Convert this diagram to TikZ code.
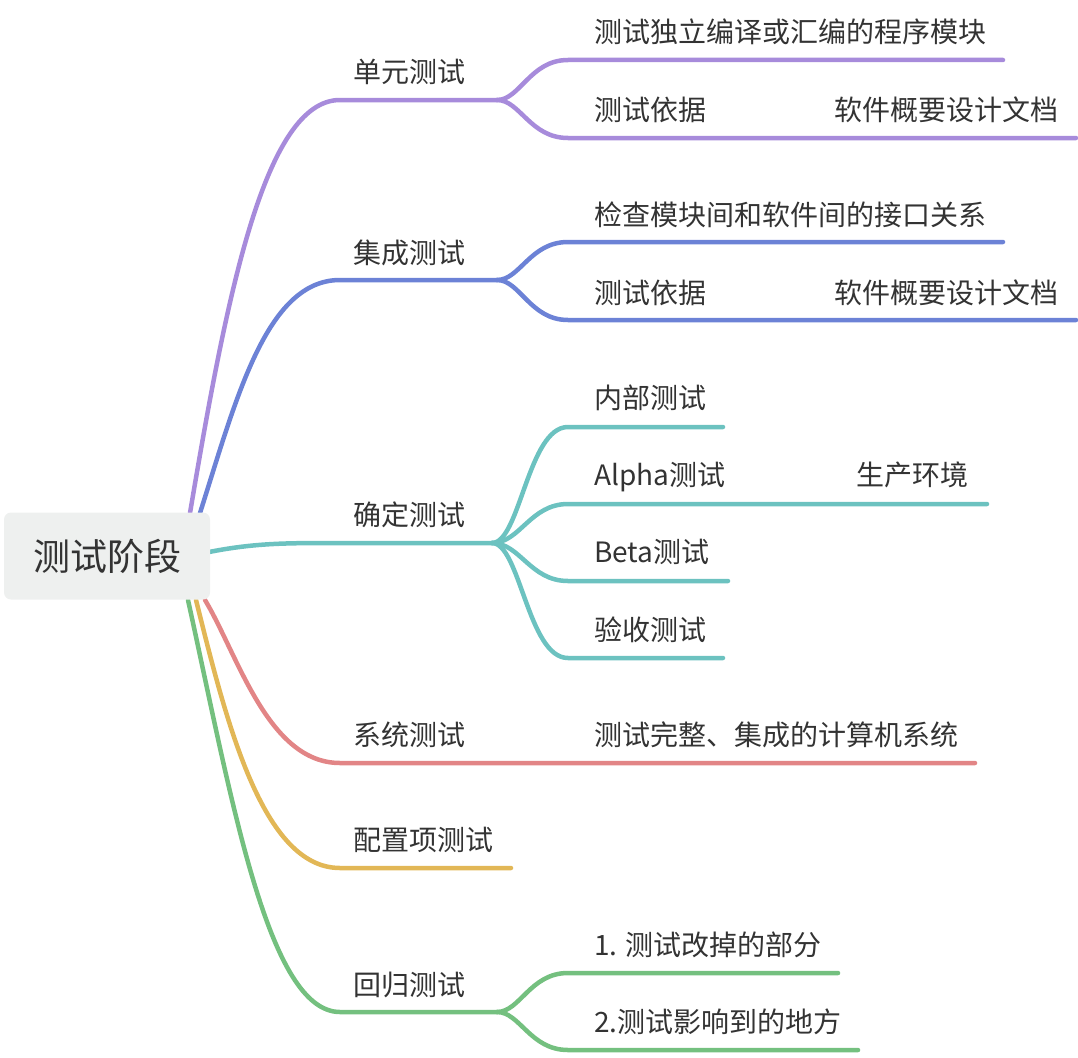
\documentclass[tikz,border=0pt]{standalone}
\usepackage{fontspec}
\setmainfont{Noto Sans CJK SC}
\definecolor{cpurple}{RGB}{167,139,219}
\definecolor{cblue}{RGB}{108,130,214}
\definecolor{cteal}{RGB}{108,194,192}
\definecolor{cred}{RGB}{226,133,134}
\definecolor{cyellow}{RGB}{226,183,86}
\definecolor{cgreen}{RGB}{116,192,127}
\definecolor{rootfill}{RGB}{238,240,239}
\definecolor{txt}{RGB}{51,51,51}
\begin{document}
\begin{tikzpicture}[x=1pt,y=-1pt,
  br/.style={line width=4.5pt,line cap=round},
  lbl/.style={anchor=base west,inner sep=0pt,text=txt,font=\fontsize{28}{32}\selectfont},
  rootbox/.style={fill=rootfill,rounded corners=7pt,minimum width=206pt,minimum height=87pt,inner sep=0pt,text=txt,font=\fontsize{37}{42}\selectfont}]
\useasboundingbox (0,0) rectangle (1078,1057);
% root-side start points
\coordinate (sP) at (190,513);
\coordinate (sB) at (200,513);
\coordinate (sT) at (209,552);
\coordinate (sR) at (205,600);
\coordinate (sY) at (196,600);
\coordinate (sG) at (188,600);
% first-level junctions
\coordinate (jP) at (497,100);
\coordinate (jB) at (497,280);
\coordinate (jT) at (492,543);
\coordinate (jG) at (497,1012);
% main branches
\draw[br,cgreen] (sG) .. controls (232,800) and (268,1012) .. (340,1012) -- (jG);
\draw[br,cyellow] (sY) .. controls (226,720) and (262,868) .. (340,868) -- (511,868);
\draw[br,cred] (sR) .. controls (238,655) and (268,763) .. (340,763) -- (975,763);
\draw[br,cteal] (sT) .. controls (255,543) and (285,543) .. (340,543) -- (jT);
\draw[br,cblue] (sB) .. controls (236,400) and (266,280) .. (340,280) -- (jB);
\draw[br,cpurple] (sP) .. controls (226,300) and (264,100) .. (340,100) -- (jP);
% sub branches purple
\draw[br,cpurple] (jP) .. controls (520,100) and (530,60) .. (568,60) -- (1003,60);
\draw[br,cpurple] (jP) .. controls (520,100) and (530,138) .. (568,138) -- (1076,138);
% sub branches blue
\draw[br,cblue] (jB) .. controls (520,280) and (530,242) .. (568,242) -- (1003,242);
\draw[br,cblue] (jB) .. controls (520,280) and (530,320) .. (568,320) -- (1076,320);
% sub branches teal
\draw[br,cteal] (jT) .. controls (520,543) and (528,427) .. (568,427) -- (723,427);
\draw[br,cteal] (jT) .. controls (520,543) and (530,504) .. (568,504) -- (987,504);
\draw[br,cteal] (jT) .. controls (520,543) and (530,581) .. (568,581) -- (728,581);
\draw[br,cteal] (jT) .. controls (520,543) and (528,658) .. (568,658) -- (723,658);
% sub branches green
\draw[br,cgreen] (jG) .. controls (520,1012) and (530,973) .. (568,973) -- (838,973);
\draw[br,cgreen] (jG) .. controls (520,1012) and (530,1050) .. (568,1050) -- (858,1050);
% root
\node[rootbox] (root) at (107,556) {测试阶段};
% labels
\node[lbl] (unit) at (353,82) {单元测试};
\node[lbl] (u1) at (594,43) {测试独立编译或汇编的程序模块};
\node[lbl] (u2) at (594,120) {测试依据};
\node[lbl] (u2a) at (834,120) {软件概要设计文档};
\node[lbl] (integ) at (353,263) {集成测试};
\node[lbl] (i1) at (594,225) {检查模块间和软件间的接口关系};
\node[lbl] (i2) at (594,303) {测试依据};
\node[lbl] (i2a) at (834,303) {软件概要设计文档};
\node[lbl] (conf) at (353,525) {确定测试};
\node[lbl] (c1) at (594,408) {内部测试};
\node[lbl] (c2) at (594,485) {Alpha测试};
\node[lbl] (c2a) at (856,485) {生产环境};
\node[lbl] (c3) at (594,562) {Beta测试};
\node[lbl] (c4) at (594,640) {验收测试};
\node[lbl] (sys) at (353,745) {系统测试};
\node[lbl] (s1) at (594,745) {测试完整、集成的计算机系统};
\node[lbl] (cfg) at (353,850) {配置项测试};
\node[lbl] (reg) at (353,995) {回归测试};
\node[lbl] (r1) at (594,955) {1. 测试改掉的部分};
\node[lbl] (r2) at (594,1032) {2.测试影响到的地方};
\end{tikzpicture}
\end{document}
